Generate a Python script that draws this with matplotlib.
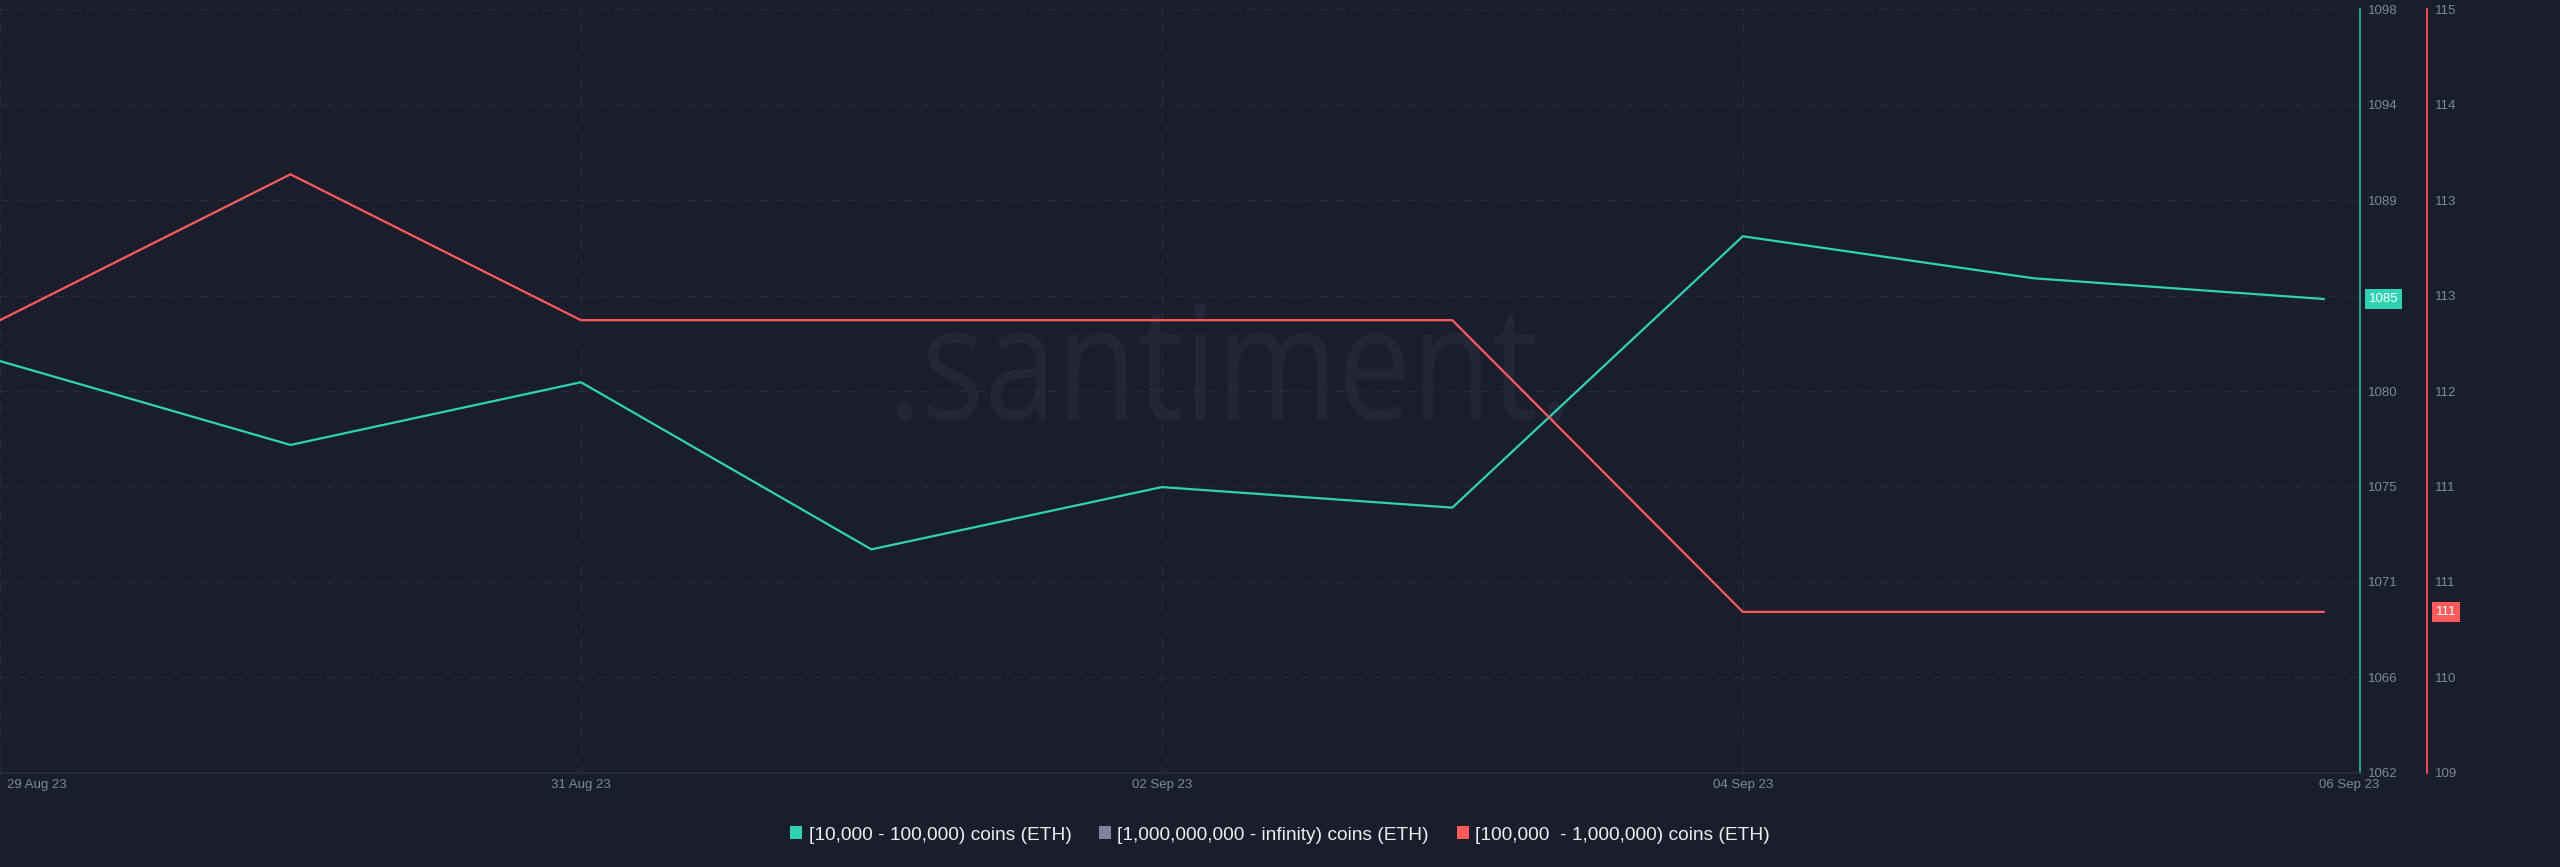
import matplotlib
matplotlib.use("Agg")
import matplotlib.pyplot as plt
from matplotlib.patches import Patch, PathPatch
from matplotlib.textpath import TextPath
from matplotlib.font_manager import FontProperties
from matplotlib.transforms import Affine2D, IdentityTransform, ScaledTranslation
import numpy as np

# ---------------- data ----------------
dates = np.arange(np.datetime64("2023-08-29"), np.datetime64("2023-09-07"), np.timedelta64(1, "D"))
teal_values = [1081.33, 1077.33, 1080.32, 1072.35, 1075.32, 1074.34, 1087.28, 1085.28, 1084.29]
red_values = [112.52, 113.59, 112.52, 112.52, 112.52, 112.52, 110.38, 110.38, 110.38]

series_names = ["[10,000 - 100,000) coins (ETH)",
                "[1,000,000,000 - infinity) coins (ETH)",
                "[100,000  - 1,000,000) coins (ETH)"]

date_ticks = np.array(["2023-08-29", "2023-08-31", "2023-09-02", "2023-09-04", "2023-09-06"],
                      dtype="datetime64[D]")
date_tick_labels = ["29 Aug 23", "31 Aug 23", "02 Sep 23", "04 Sep 23", "06 Sep 23"]

teal_range = (1061.7, 1098.1)
teal_tick_labels = ["1062", "1066", "1071", "1075", "1080", "1084", "1089", "1094", "1098"]
red_range = (109.2, 114.8)
red_tick_labels = ["109", "110", "111", "111", "112", "113", "113", "114", "115"]
last_value_labels = ["1085", "111"]

# ---------------- style ----------------
BG = "#1a1d2c"
TEAL = "#2fd3b3"
TEAL_AXIS = "#26a48e"
RED = "#ff5b5b"
RED_AXIS = "#f0494f"
GRAY = "#7b859d"
GRID = "#272b3c"
TICK = "#80879b"
LEG_TXT = "#eceef4"
WATER = "#222637"

plt.rcParams["font.family"] = ["Liberation Sans", "DejaVu Sans"]

W, H = 2560, 867
fig = plt.figure(figsize=(W / 100, H / 100), dpi=100, facecolor=BG)

top_px, bot_px, right_px, red_px = 9.4, 772.7, 2360, 2427
ax1 = fig.add_axes([0, (H - bot_px) / H, right_px / W, (bot_px - top_px) / H])
ax1.set_facecolor("none")

# watermark
tp = TextPath((0, 0), ".santiment.", size=100, prop=FontProperties(family="Open Sans"))
ext = tp.get_extents()
wx0, wx1, wtop, wbase = 897, 1563, 302.3, 421.7
tr = (Affine2D().translate(-ext.x0, -ext.y0)
      .scale((wx1 - wx0) / ext.width, (wbase - wtop) / ext.height)
      .translate(wx0, H - wbase))
wm = PathPatch(tr.transform_path(tp), facecolor=WATER, edgecolor="none",
               transform=IdentityTransform(), zorder=-5)
fig.add_artist(wm)

ax1.plot(dates, teal_values, color=TEAL, lw=1.6, zorder=3)
ax1.set_ylim(*teal_range)
ax1.set_yticks(np.linspace(teal_range[0], teal_range[1], len(teal_tick_labels)))
ax1.set_yticklabels(teal_tick_labels)

x_end = dates[-1].astype("datetime64[h]") + np.timedelta64(3, "h")
ax1.set_xlim(dates[0], x_end)
ax1.set_xticks(date_ticks)
ax1.set_xticklabels(date_tick_labels)
ax1.tick_params(axis="x", length=0, pad=4.5, labelsize=9.5, labelcolor=TICK)

ax1.grid(axis="y", color=GRID, lw=1, ls=(0, (6.5, 6.5)))
for d in date_ticks[:-1]:
    ax1.axvline(d, color=GRID, lw=1, ls=(0, (6.5, 6.5)), zorder=0.5)

ticks = ax1.xaxis.get_major_ticks()
ticks[0].label1.set_ha("left")
ticks[0].label1.set_transform(ticks[0].label1.get_transform()
                              + ScaledTranslation(7 / 100, 0, fig.dpi_scale_trans))
ticks[-1].label1.set_ha("left")
ticks[-1].label1.set_transform(ticks[-1].label1.get_transform()
                               + ScaledTranslation(-5 / 100, 0, fig.dpi_scale_trans))

ax2 = ax1.twinx()
ax2.set_facecolor("none")
ax2.plot(dates, red_values, color=RED, lw=1.6, zorder=3)
ax2.set_ylim(*red_range)
ax2.set_yticks(np.linspace(red_range[0], red_range[1], len(red_tick_labels)))
ax2.set_yticklabels(red_tick_labels)
ax2.tick_params(axis="y", length=0, pad=5.8, labelsize=9.5, labelcolor=TICK)
for s in ["top", "left", "bottom"]:
    ax2.spines[s].set_visible(False)
ax2.spines["right"].set_position(("axes", red_px / right_px))
ax2.spines["right"].set_color(RED_AXIS)
ax2.spines["right"].set_linewidth(1.4)

# teal axis on the right (after twinx, which moves ax1 ticks to the left)
ax1.yaxis.tick_right()
ax1.yaxis.set_label_position("right")
ax1.tick_params(axis="y", length=0, pad=5.8, labelsize=9.5, labelcolor=TICK,
                left=False, labelleft=False, right=True, labelright=True)
for s in ["top", "left"]:
    ax1.spines[s].set_visible(False)
ax1.spines["bottom"].set_color("#2a2e40")
ax1.spines["bottom"].set_linewidth(1.2)
ax1.spines["right"].set_visible(True)
ax1.spines["right"].set_color(TEAL_AXIS)
ax1.spines["right"].set_linewidth(1.4)

# last value tags
ax2.annotate(last_value_labels[0], xy=(1, teal_values[-1]), xycoords=ax1.get_yaxis_transform(),
             xytext=(9, 0), textcoords="offset pixels", ha="left", va="center",
             fontsize=9.5, color="white", annotation_clip=False, zorder=10,
             bbox=dict(boxstyle="square,pad=0.28", fc=TEAL, ec="none"))
ax2.annotate(last_value_labels[1], xy=(red_px / right_px, red_values[-1]),
             xycoords=ax2.get_yaxis_transform(),
             xytext=(9, 0), textcoords="offset pixels", ha="left", va="center",
             fontsize=9.5, color="white", annotation_clip=False, zorder=10,
             bbox=dict(boxstyle="square,pad=0.28", fc=RED, ec="none"))

# legend
handles = [Patch(facecolor=c, edgecolor="none") for c in (TEAL, GRAY, RED)]
fig.legend(handles, series_names, loc="center", bbox_to_anchor=(0.5, 1 - 835 / H),
           ncol=3, frameon=False, fontsize=13.8, labelcolor=LEG_TXT,
           handlelength=0.64, handleheight=0.64, handletextpad=0.32, columnspacing=1.44)

fig.savefig("out.png", dpi=100, facecolor=BG)
